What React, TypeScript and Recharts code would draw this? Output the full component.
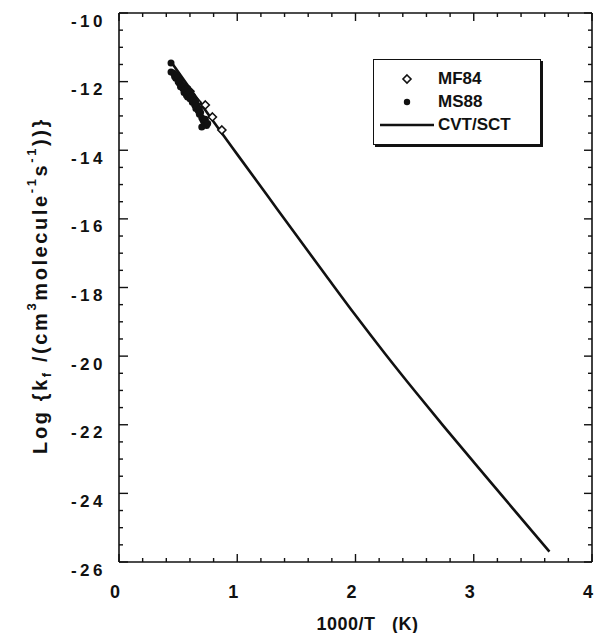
import { ComposedChart, Line, Scatter, XAxis, YAxis, Legend } from "recharts";

// CVT/SCT curve (1000/T vs log k)
const cvtInvT = [0.44, 0.6, 0.8, 1.0, 1.25, 1.5, 1.75, 2.0, 2.25, 2.5, 2.75, 3.0, 3.25, 3.5, 3.64];
const cvtLogK = [-11.42, -12.2, -13.17, -14.12, -15.3, -16.48, -17.65, -18.81, -19.93, -21.01, -22.06, -23.09, -24.11, -25.13, -25.7];

// MF84 (open diamonds)
const mf84InvT = [0.6, 0.66, 0.73, 0.79, 0.87];
const mf84LogK = [-12.28, -12.6, -12.68, -13.03, -13.41];

// MS88 (filled dots)
const ms88InvT = [0.44, 0.44, 0.46, 0.47, 0.48, 0.49, 0.5, 0.5, 0.51, 0.52, 0.52, 0.53, 0.54, 0.55, 0.55, 0.56, 0.57, 0.57, 0.58, 0.58, 0.59, 0.6, 0.6, 0.61, 0.62, 0.62, 0.63, 0.64, 0.65, 0.65, 0.66, 0.67, 0.68, 0.68, 0.69, 0.7, 0.7, 0.71, 0.72, 0.73, 0.74, 0.75];
const ms88LogK = [-11.46, -11.72, -11.75, -11.85, -11.9, -11.8, -12.0, -11.88, -12.05, -11.98, -12.15, -12.1, -12.2, -12.12, -12.32, -12.22, -12.3, -12.4, -12.2, -12.45, -12.35, -12.5, -12.3, -12.45, -12.6, -12.42, -12.55, -12.68, -12.6, -12.78, -12.72, -12.85, -12.95, -12.8, -12.9, -13.05, -13.32, -13.12, -13.2, -13.1, -13.28, -13.22];

const xTicks = [0, 0.2, 0.4, 0.6, 0.8, 1, 1.2, 1.4, 1.6, 1.8, 2, 2.2, 2.4, 2.6, 2.8, 3, 3.2, 3.4, 3.6, 3.8, 4];
const xMajor = [0, 1, 2, 3, 4];
const yTicks = [-26, -25.5, -25, -24.5, -24, -23.5, -23, -22.5, -22, -21.5, -21, -20.5, -20, -19.5, -19, -18.5, -18, -17.5, -17, -16.5, -16, -15.5, -15, -14.5, -14, -13.5, -13, -12.5, -12, -11.5, -11, -10.5, -10];
const yMajor = [-26, -24, -22, -20, -18, -16, -14, -12, -10];

const cvt = cvtInvT.map((x, i) => ({ x, y: cvtLogK[i] }));
const mf84 = mf84InvT.map((x, i) => ({ x, y: mf84LogK[i] }));
const ms88 = ms88InvT.map((x, i) => ({ x, y: ms88LogK[i] }));

const FONT = '"Liberation Sans", Arial, Helvetica, sans-serif';
const INK = "#111";

function Diamond({ cx, cy, s = 4 }: any) {
  return (
    <polygon
      points={`${cx},${cy - s} ${cx + s},${cy} ${cx},${cy + s} ${cx - s},${cy}`}
      fill="#fff"
      stroke={INK}
      strokeWidth={1.6}
    />
  );
}

function LeftTick({ x, y, payload }: any) {
  const major = yMajor.includes(payload.value);
  return (
    <g>
      <line x1={x} x2={x + (major ? 9 : 4)} y1={y} y2={y} stroke={INK} strokeWidth={1.4} />
      {major && (
        <text x={x - 13} y={y + 8} textAnchor="end" dominantBaseline="central" fontFamily={FONT} fontWeight="bold" fontSize={17} letterSpacing={3.5} fill={INK}>
          {"-" + Math.abs(payload.value)}
        </text>
      )}
    </g>
  );
}

function RightTick({ x, y, payload }: any) {
  const major = yMajor.includes(payload.value);
  return <line x1={x} x2={x - (major ? 8 : 4)} y1={y} y2={y} stroke={INK} strokeWidth={1.4} />;
}

function BottomTick({ x, y, payload }: any) {
  const major = xMajor.includes(payload.value);
  return (
    <g>
      <line x1={x} x2={x} y1={y} y2={y - (major ? 8 : 4)} stroke={INK} strokeWidth={1.4} />
      {major && (
        <text x={x - 4} y={y + 30} textAnchor="middle" dominantBaseline="central" fontFamily={FONT} fontWeight="bold" fontSize={18} fill={INK}>
          {payload.value}
        </text>
      )}
    </g>
  );
}

function TopTick({ x, y, payload }: any) {
  const major = xMajor.includes(payload.value);
  return <line x1={x} x2={x} y1={y} y2={y + (major ? 8 : 4)} stroke={INK} strokeWidth={1.4} />;
}

function YTitle({ viewBox }: any) {
  const cx = viewBox.x + 40;
  const cy = viewBox.y + viewBox.height / 2 - 2;
  return (
    <text x={cx} y={cy} transform={`rotate(-90 ${cx} ${cy})`} textAnchor="middle" dominantBaseline="central" fontFamily={FONT} fontWeight="bold" fontSize={20} letterSpacing={2.6} fill={INK}>
      <tspan>Log {"{"}k</tspan>
      <tspan dy={6} fontSize={13}>f</tspan>
      <tspan dy={-6}> /(cm</tspan>
      <tspan dy={-9} fontSize={13}>3</tspan>
      <tspan dy={9}>molecule</tspan>
      <tspan dy={-9} fontSize={13}>-1</tspan>
      <tspan dy={9}>s</tspan>
      <tspan dy={-9} fontSize={13}>-1</tspan>
      <tspan dy={9}>)){"}"}</tspan>
    </text>
  );
}

function XTitle({ viewBox }: any) {
  const cx = viewBox.x + viewBox.width / 2 + 12;
  return (
    <text x={cx} y={viewBox.y + 62} textAnchor="middle" dominantBaseline="central" fontFamily={FONT} fontWeight="bold" fontSize={18} letterSpacing={0.5} fill={INK} style={{ whiteSpace: "pre" }}>
      {"1000/T   (K)"}
    </text>
  );
}

function LegendBox() {
  const row = (top: number, icon: any, label: string) => (
    <div style={{ position: "absolute", top, left: 0, width: "100%", height: 20 }}>
      <svg width={64} height={20} style={{ position: "absolute", left: 0, top: 0 }}>
        {icon}
      </svg>
      <span style={{ position: "absolute", left: 64, top: 0, lineHeight: "20px", fontFamily: FONT, fontWeight: "bold", fontSize: 17, color: INK }}>
        {label}
      </span>
    </div>
  );
  return (
    <div
      style={{
        position: "relative",
        width: 166,
        height: 84,
        border: `1.5px solid ${INK}`,
        boxShadow: `2px 2px 0 ${INK}`,
        background: "#fff",
      }}
    >
      {row(9, <Diamond cx={33} cy={10} s={4} />, "MF84")}
      {row(32, <circle cx={33} cy={10} r={3.2} fill={INK} />, "MS88")}
      {row(55, <line x1={6} x2={60} y1={10} y2={10} stroke={INK} strokeWidth={2.4} />, "CVT/SCT")}
    </div>
  );
}

export default function App() {
  return (
    <div style={{ width: 596, height: 633, background: "#fff" }}>
      <style>{"body{margin:0}"}</style>
      <ComposedChart width={596} height={633} margin={{ top: 12, right: 3, bottom: 0, left: 0 }}>
        <XAxis
          type="number"
          dataKey="x"
          domain={[0, 4]}
          ticks={xTicks}
          interval={0}
          allowDataOverflow
          height={71}
          tickSize={0}
          tickMargin={0}
          tickLine={false}
          axisLine={{ stroke: INK, strokeWidth: 1.6 }}
          tick={(p: any) => <BottomTick {...p} />}
          label={(p: any) => <XTitle {...p} />}
        />
        <XAxis
          xAxisId="top"
          orientation="top"
          type="number"
          dataKey="x"
          domain={[0, 4]}
          ticks={xTicks}
          interval={0}
          allowDataOverflow
          height={1}
          tickSize={0}
          tickMargin={0}
          tickLine={false}
          axisLine={{ stroke: INK, strokeWidth: 1.6 }}
          tick={(p: any) => <TopTick {...p} />}
        />
        <YAxis
          type="number"
          dataKey="y"
          domain={[-26, -10]}
          ticks={yTicks}
          interval={0}
          allowDataOverflow
          width={119}
          tickSize={0}
          tickMargin={0}
          tickLine={false}
          axisLine={{ stroke: INK, strokeWidth: 1.6 }}
          tick={(p: any) => <LeftTick {...p} />}
          label={(p: any) => <YTitle {...p} />}
        />
        <YAxis
          yAxisId="right"
          orientation="right"
          type="number"
          dataKey="y"
          domain={[-26, -10]}
          ticks={yTicks}
          interval={0}
          allowDataOverflow
          width={1}
          tickSize={0}
          tickMargin={0}
          tickLine={false}
          axisLine={{ stroke: INK, strokeWidth: 1.6 }}
          tick={(p: any) => <RightTick {...p} />}
        />
        {/* invisible series so the mirrored frame axes get a scale */}
        <Scatter
          data={cvt}
          xAxisId="top"
          yAxisId="right"
          isAnimationActive={false}
          legendType="none"
          shape={() => <g />}
        />
        <Line
          data={cvt}
          dataKey="y"
          type="monotone"
          stroke={INK}
          strokeWidth={2.6}
          dot={false}
          isAnimationActive={false}
          name="CVT/SCT"
        />
        <Scatter
          data={mf84}
          name="MF84"
          isAnimationActive={false}
          shape={(p: any) => <Diamond cx={p.cx} cy={p.cy} s={4} />}
        />
        <Scatter
          data={ms88}
          name="MS88"
          isAnimationActive={false}
          shape={(p: any) => <circle cx={p.cx} cy={p.cy} r={3.5} fill={INK} />}
        />
        <Legend
          layout="vertical"
          verticalAlign="middle"
          align="center"
          wrapperStyle={{ top: 59, left: 373, width: 170, height: 88 }}
          content={() => <LegendBox />}
        />
      </ComposedChart>
    </div>
  );
}
